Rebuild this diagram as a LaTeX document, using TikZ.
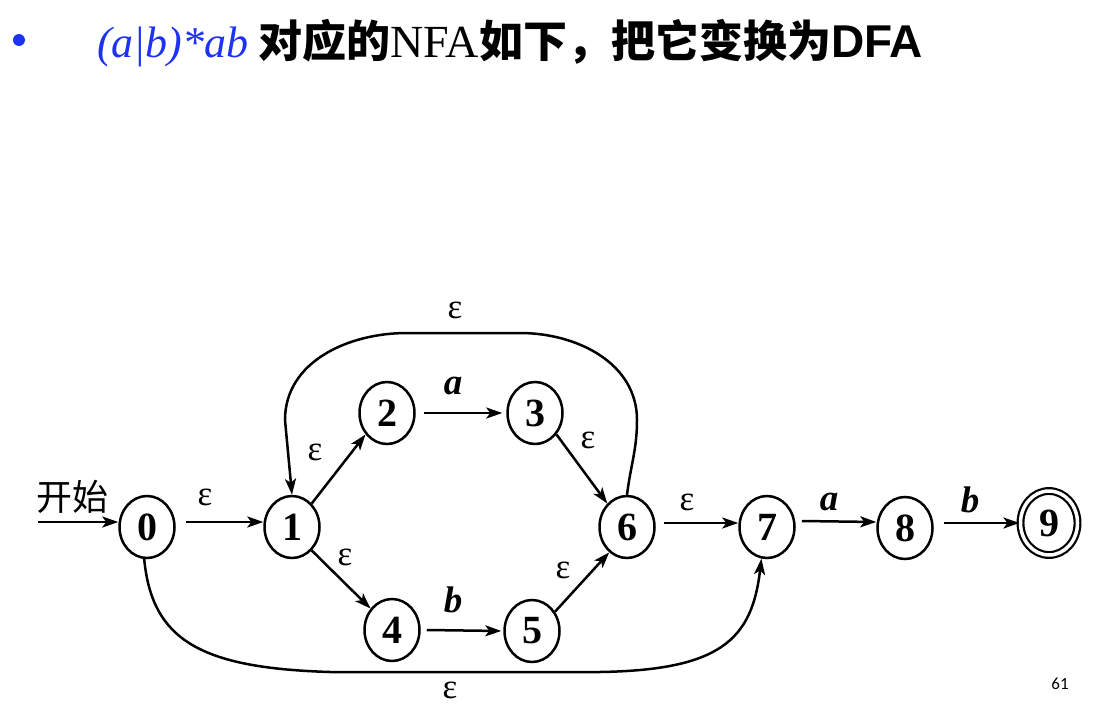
\documentclass[tikz,border=0pt]{standalone}
\usepackage{fontspec}
\setmainfont{Liberation Serif}
\setsansfont{Liberation Sans}
\newfontfamily\cjk{Noto Sans CJK SC}
\newfontfamily\pagefont{Carlito}
\usetikzlibrary{arrows.meta,shapes.geometric}
\definecolor{titleblue}{RGB}{30,50,245}
\begin{document}
\begin{tikzpicture}[x=1pt,y=-1pt,
  state/.style={ellipse,draw,line width=2.5pt,minimum width=55pt,minimum height=62pt,inner sep=0pt,
    font=\fontsize{40}{40}\selectfont\bfseries},
  accept/.style={state,double,double distance=3.5pt,line width=2.2pt,minimum width=57pt,minimum height=64pt},
  arr/.style={line width=2.5pt,-{Stealth[length=16pt,width=11pt,inset=4pt]}},
  eps/.style={font=\fontsize{35}{35}\selectfont},
  sym/.style={font=\fontsize{37}{37}\selectfont\bfseries\itshape}]
\useasboundingbox (0,0) rectangle (1097,709);
% title
\node[circle,fill=titleblue,minimum size=12pt,inner sep=0pt] (bullet) at (19,40) {};
\node[anchor=base west,inner sep=0pt] (title) at (97,57)
  {{\color{titleblue}\fontsize{44}{44}\selectfont\itshape (a|b)*ab}\hspace{10pt}{\fontsize{44}{44}\selectfont\cjk\bfseries 对应的}{\fontsize{46}{46}\selectfont NFA}{\fontsize{44}{44}\selectfont\cjk\bfseries 如下，把它变换为}{\fontsize{46}{46}\selectfont\sffamily\bfseries DFA}};
% states
\node[state] (n0) at (147,527) {0};
\node[state] (n1) at (292,527) {1};
\node[state] (n2) at (387,413) {2};
\node[state] (n3) at (535,413) {3};
\node[state] (n4) at (392,630) {4};
\node[state] (n5) at (532,631) {5};
\node[state] (n6) at (627,527) {6};
\node[state] (n7) at (767,527) {7};
\node[state] (n8) at (905,528) {8};
\node[accept] (n9) at (1049,523) {9};
% start
\node[font=\fontsize{36}{36}\selectfont\cjk] (start) at (72,497) {开始};
\coordinate (s) at (38,522);
\draw[arr] (s) -- (s -| n0.west);
% edges
\draw[arr] ([xshift=10pt,yshift=5pt]n0.east) -- ([yshift=5pt]n1.west);
\draw[arr] (n1.50) -- (n2.225);
\draw[arr] ([xshift=8pt]n2.east) -- ([xshift=-4pt]n3.west);
\draw[arr] (n3.-45) -- (n6.130);
\draw[arr] (n1.-50) -- (n4.135);
\draw[arr] ([xshift=6pt]n4.east) -- ([xshift=-2pt]n5.west);
\draw[arr] (n5.40) -- (n6.235);
\draw[arr] ([xshift=8pt,yshift=4pt]n6.east) -- ([yshift=4pt]n7.west);
\draw[arr] ([xshift=6pt,yshift=6pt]n7.east) -- ([yshift=6pt]n8.west);
\draw[arr] ([xshift=10pt,yshift=5pt]n8.east) -- (n9.west);
\draw[arr] (n6.north) to[out=83,in=-90] (637,420) to[out=90,in=0] (520,333) -- (407,333)
  to[out=180,in=90] (285,420) -- (n1.north);
\draw[arr] (n0.-95) .. controls (152,640) and (200,668) .. (330,672) -- (600,672)
  .. controls (720,670) and (752,640) .. (n7.-100);
% labels
\node[eps] (l01) at (205,497) {ε};
\node[eps] (l12) at (315,452) {ε};
\node[sym] (l23) at (453,386) {a};
\node[eps] (l36) at (588,440) {ε};
\node[eps] (l14) at (345,557) {ε};
\node[sym] (l45) at (453,600) {b};
\node[eps] (l56) at (563,570) {ε};
\node[eps] (l67) at (687,502) {ε};
\node[sym] (l78) at (829,502) {a};
\node[sym] (l89) at (970,500) {b};
\node[eps] (ltop) at (455,310) {ε};
\node[eps] (lbot) at (450,690) {ε};
\node[font=\fontsize{17}{17}\selectfont\pagefont] (page) at (1060,684) {61};
\end{tikzpicture}
\end{document}
